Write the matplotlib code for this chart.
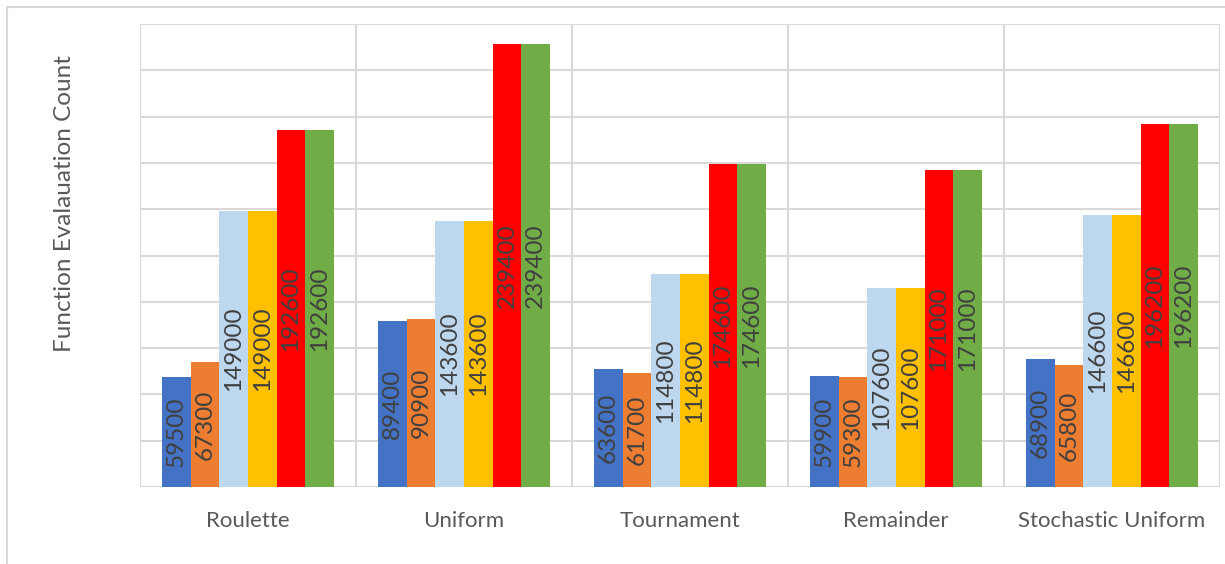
import matplotlib.pyplot as plt
import numpy as np
from matplotlib.patches import Rectangle

# --- data ---
categories = ["Roulette", "Uniform", "Tournament", "Remainder", "Stochastic Uniform"]
s1 = [59500, 89400, 63600, 59900, 68900]
s2 = [67300, 90900, 61700, 59300, 65800]
s3 = [149000, 143600, 114800, 107600, 146600]
s4 = [149000, 143600, 114800, 107600, 146600]
s5 = [192600, 239400, 174600, 171000, 196200]
s6 = [192600, 239400, 174600, 171000, 196200]
series = [s1, s2, s3, s4, s5, s6]
colors = ["#4472C4", "#ED7D31", "#BDD7EE", "#FFC000", "#FF0000", "#70AD47"]

grid_c = "#D9D9D9"
text_c = "#404040"
font = ["Lato", "DejaVu Sans"]

fig = plt.figure(figsize=(12.25, 5.64), dpi=100)
ax = fig.add_axes([140 / 1225, 1 - 487 / 564, 1080 / 1225, 463 / 564])

# outer chart frame
fig.patches.append(Rectangle((7 / 1225, -0.1), 1.2, 1 - 7 / 564 + 0.1,
                             transform=fig.transFigure, fill=False,
                             edgecolor=grid_c, linewidth=1.5))

x = np.arange(len(categories))
n = len(series)
bw = 0.796 / n
for i, (vals, c) in enumerate(zip(series, colors)):
    pos = x - 0.398 + bw * (i + 0.5)
    bars = ax.bar(pos, vals, width=bw, color=c, zorder=3, linewidth=0)
    for b, v in zip(bars, vals):
        ax.text(b.get_x() + b.get_width() / 2, v / 2, str(v), rotation=90,
                ha="center", va="center", fontsize=17.5, color=text_c,
                family=font, zorder=4)

ax.set_xlim(-0.5, len(categories) - 0.5)
ax.set_ylim(0, 250000)
ax.set_yticks(np.arange(0, 250001, 25000))
ax.set_yticklabels([])
ax.tick_params(axis="y", length=0)
ax.set_xticks(x)
ax.set_xticklabels(categories, fontsize=16, color="#595959", family=font)
ax.tick_params(axis="x", length=0, pad=17)

ax.grid(axis="y", color=grid_c, linewidth=1.5, zorder=0)
for xv in np.arange(-0.5, len(categories), 1.0):
    ax.axvline(xv, color=grid_c, linewidth=1.5, zorder=0)
for s in ax.spines.values():
    s.set_visible(False)
ax.axhline(0, color=grid_c, linewidth=2, zorder=2)

fig.text(65 / 1225, 1 - 204 / 564, "Function Evalauation Count", rotation=90,
         ha="center", va="center", fontsize=17.5, color="#595959", family=font)

fig.savefig("out.png", dpi=100)
